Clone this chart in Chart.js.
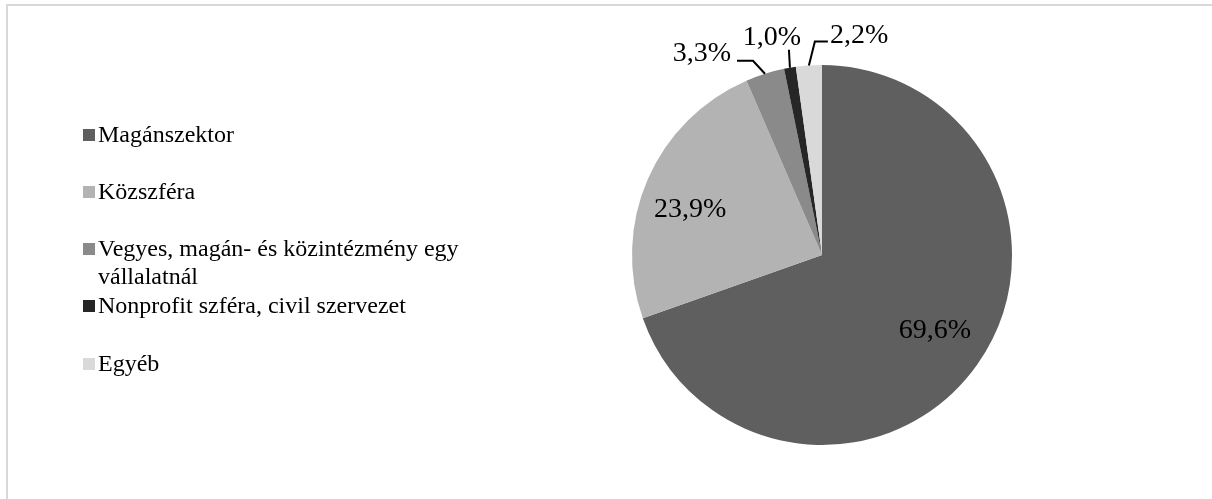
<!DOCTYPE html>
<html>
<head>
<meta charset="utf-8">
<script src="https://cdn.jsdelivr.net/npm/chart.js@4/dist/chart.umd.min.js"></script>
<style>
    html, body { margin: 0; padding: 0; background: #fff; overflow: hidden; }
    #frame {
        position: absolute; left: 6px; top: 4px;
        width: 1300px; height: 600px;
        border: 2px solid #d9d9d9;
    }
    #wrap { position: absolute; left: 0; top: 0; width: 1212px; height: 499px; }
</style>
</head>
<body>
<div id="frame"></div>
<div id="wrap"><canvas id="pieChart" width="1212" height="499"></canvas></div>
<script>
const categories = [
    "Magánszektor",
    "Közszféra",
    "Vegyes, magán- és közintézmény egy vállalatnál",
    "Nonprofit szféra, civil szervezet",
    "Egyéb"
];
const shares = [69.6, 23.9, 3.3, 1.0, 2.2];
const sliceColors = ["#5f5f5f", "#b3b3b3", "#8a8a8a", "#262626", "#d9d9d9"];

// legend text broken into lines the way it is shown
const legendLines = [
    ["Magánszektor"],
    ["Közszféra"],
    ["Vegyes, magán- és közintézmény egy", "vállalatnál"],
    ["Nonprofit szféra, civil szervezet"],
    ["Egyéb"]
];

const SERIF = '"Liberation Serif", "Times New Roman", serif';

function fmt(v) {
    return v.toFixed(1).replace(".", ",") + "%";
}

// label placement: inside labels sit on a fraction of the radius,
// outside ones get a leader line (points are offsets from the arc edge)
const labelLayout = [
    { inside: 0.715, nudge: [2, -5] },
    { inside: 0.74, nudge: [-3, 9] },
    { line: [[-12, -13], [-28, -13]], text: [-34, -22], align: "right" },
    { line: [[-1, -18]], text: [-18, -32], align: "center" },
    { line: [[6, -24], [19, -24]], text: [21, -32], align: "left" }
];

const sideLegend = {
    id: "sideLegend",
    afterDraw(c) {
        const ctx = c.ctx;
        const rows = [135, 192, 249, 306, 364];
        ctx.save();
        ctx.font = "24px " + SERIF;
        ctx.fillStyle = "#000";
        ctx.textAlign = "left";
        ctx.textBaseline = "alphabetic";
        legendLines.forEach((lines, i) => {
            const y = rows[i];
            ctx.fillStyle = c.data.datasets[0].backgroundColor[i];
            ctx.fillRect(83, y - 6, 12, 12);
            ctx.fillStyle = "#000";
            lines.forEach((t, k) => ctx.fillText(t, 98, y + 7 + k * 28));
        });
        ctx.restore();
    }
};

const sliceLabels = {
    id: "sliceLabels",
    afterDatasetsDraw(c) {
        const ctx = c.ctx;
        const meta = c.getDatasetMeta(0);
        const values = c.data.datasets[0].data;
        ctx.save();
        ctx.font = "28px " + SERIF;
        ctx.fillStyle = "#000";
        ctx.strokeStyle = "#000";
        ctx.lineWidth = 2;
        ctx.textBaseline = "alphabetic";
        meta.data.forEach((arc, i) => {
            const p = arc.getProps(["x", "y", "startAngle", "endAngle", "outerRadius"], true);
            const mid = (p.startAngle + p.endAngle) / 2;
            const cfg = labelLayout[i];
            const text = fmt(values[i]);
            if (cfg.inside) {
                const r = p.outerRadius * cfg.inside;
                const x = p.x + Math.cos(mid) * r + cfg.nudge[0];
                const y = p.y + Math.sin(mid) * r + cfg.nudge[1];
                ctx.textAlign = "center";
                ctx.fillText(text, x, y + 9.5);
                return;
            }
            const ex = p.x + Math.cos(mid) * p.outerRadius;
            const ey = p.y + Math.sin(mid) * p.outerRadius;
            ctx.beginPath();
            ctx.moveTo(ex, ey);
            cfg.line.forEach(pt => ctx.lineTo(ex + pt[0], ey + pt[1]));
            ctx.stroke();
            ctx.textAlign = cfg.align;
            ctx.fillText(text, ex + cfg.text[0], ey + cfg.text[1] + 9.5);
        });
        ctx.restore();
    }
};

new Chart(document.getElementById("pieChart"), {
    type: "pie",
    data: {
        labels: categories,
        datasets: [{
            data: shares,
            backgroundColor: sliceColors,
            borderWidth: 0
        }]
    },
    options: {
        responsive: false,
        animation: false,
        layout: { padding: { left: 632, right: 200, top: 65, bottom: 54 } },
        plugins: {
            legend: { display: false },
            tooltip: { enabled: false }
        }
    },
    plugins: [sliceLabels, sideLegend]
});
</script>
</body>
</html>
